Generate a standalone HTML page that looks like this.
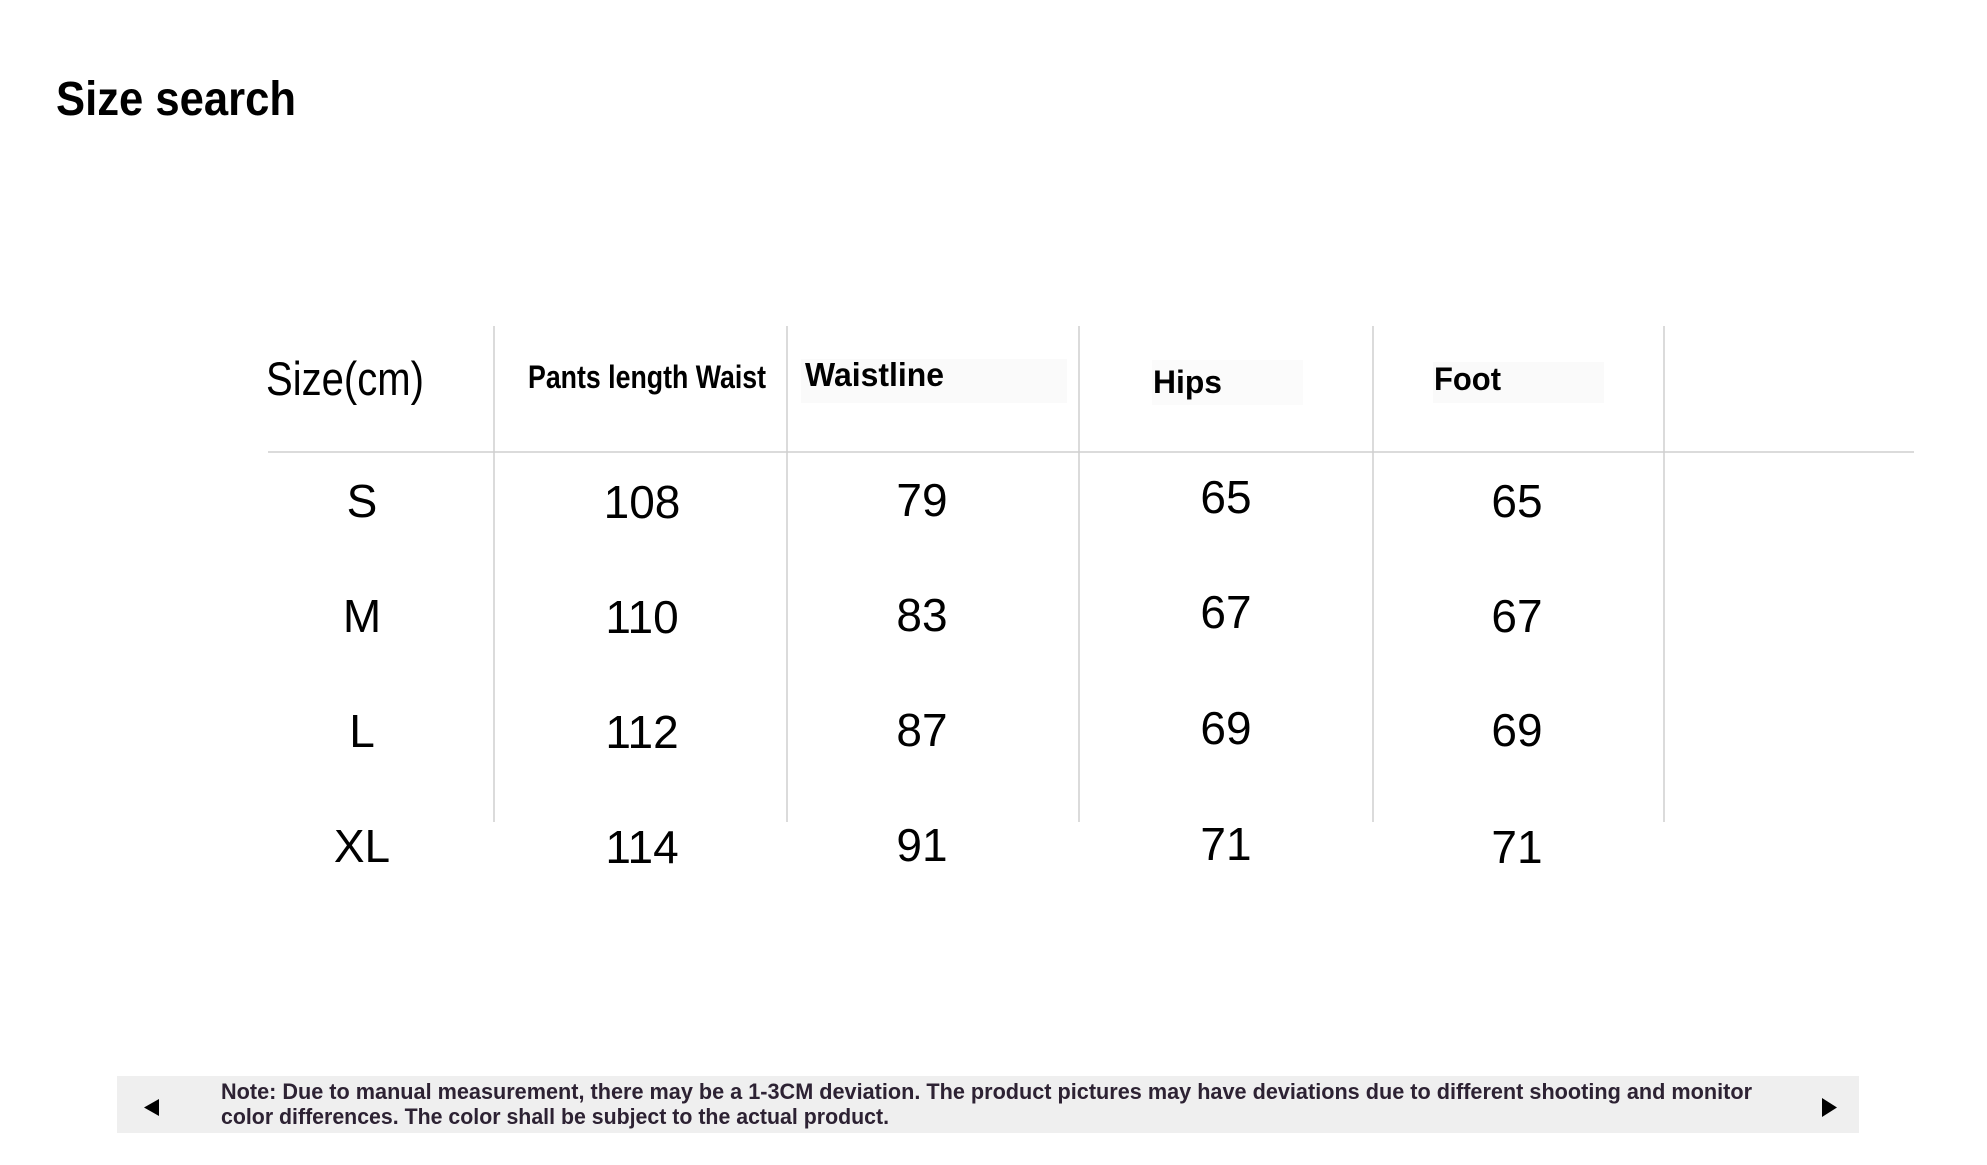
<!DOCTYPE html>
<html>
<head>
<meta charset="utf-8">
<style>
  html, body { margin: 0; padding: 0; background: #ffffff; }
  body { width: 1987px; height: 1165px; overflow: hidden; }
  svg { display: block; }
  .reg { font-family: "Liberation Sans", "DejaVu Sans", sans-serif; font-weight: 400; fill: #000; }
  .bold { font-family: "Liberation Sans", "DejaVu Sans", sans-serif; font-weight: 700; fill: #000; }
</style>
</head>
<body>
<svg width="1987" height="1165" viewBox="0 0 1987 1165" xmlns="http://www.w3.org/2000/svg">
  <rect x="0" y="0" width="1987" height="1165" fill="#ffffff"/>

  <!-- Title -->
  <text class="bold" x="56" y="115" font-size="48" textLength="240" lengthAdjust="spacingAndGlyphs">Size search</text>

  <!-- faint header boxes -->
  <rect x="801" y="359" width="266" height="44" fill="#fafafa"/>
  <rect x="1152" y="360" width="151" height="45" fill="#fbfbfb"/>
  <rect x="1433" y="362" width="171" height="41" fill="#fafafa"/>

  <!-- grid lines -->
  <g stroke="#cfcfcf" stroke-width="1.5">
    <line x1="494" y1="326" x2="494" y2="822"/>
    <line x1="787" y1="326" x2="787" y2="822"/>
    <line x1="1079" y1="326" x2="1079" y2="822"/>
    <line x1="1373" y1="326" x2="1373" y2="822"/>
    <line x1="1664" y1="326" x2="1664" y2="822"/>
    <line x1="268" y1="452" x2="1914" y2="452"/>
  </g>

  <!-- header -->
  <text class="reg" x="266" y="395" font-size="47" textLength="158" lengthAdjust="spacingAndGlyphs">Size(cm)</text>
  <text class="bold" x="528" y="388" font-size="32" textLength="238" lengthAdjust="spacingAndGlyphs">Pants length Waist</text>
  <text class="bold" x="805" y="386" font-size="33" textLength="139" lengthAdjust="spacingAndGlyphs">Waistline</text>
  <text class="bold" x="1153" y="393" font-size="32" textLength="69" lengthAdjust="spacingAndGlyphs">Hips</text>
  <text class="bold" x="1434" y="390" font-size="32" textLength="67" lengthAdjust="spacingAndGlyphs">Foot</text>

  <!-- data -->
  <g class="reg" font-size="46" text-anchor="middle">
    <text x="362" y="517">S</text>
    <text x="642" y="518">108</text>
    <text x="922" y="516">79</text>
    <text x="1226" y="513">65</text>
    <text x="1517" y="517">65</text>

    <text x="362" y="632">M</text>
    <text x="642" y="633">110</text>
    <text x="922" y="631">83</text>
    <text x="1226" y="628">67</text>
    <text x="1517" y="632">67</text>

    <text x="362" y="747">L</text>
    <text x="642" y="748">112</text>
    <text x="922" y="746">87</text>
    <text x="1226" y="744">69</text>
    <text x="1517" y="746">69</text>

    <text x="362" y="862">XL</text>
    <text x="642" y="863">114</text>
    <text x="922" y="861">91</text>
    <text x="1226" y="860">71</text>
    <text x="1517" y="863">71</text>
  </g>

  <!-- note bar -->
  <rect x="117" y="1076" width="1742" height="57" fill="#efefef"/>
  <polygon points="159,1099 159,1116 144,1107.5" fill="#000"/>
  <polygon points="1822,1098 1822,1117 1837,1107.5" fill="#000"/>
  <text class="bold" x="221" y="1099" font-size="22" style="fill:#2d2233" textLength="1531" lengthAdjust="spacingAndGlyphs">Note: Due to manual measurement, there may be a 1-3CM deviation. The product pictures may have deviations due to different shooting and monitor</text>
  <text class="bold" x="221" y="1124" font-size="22" style="fill:#2d2233" textLength="668" lengthAdjust="spacingAndGlyphs">color differences. The color shall be subject to the actual product.</text>
</svg>
</body>
</html>
